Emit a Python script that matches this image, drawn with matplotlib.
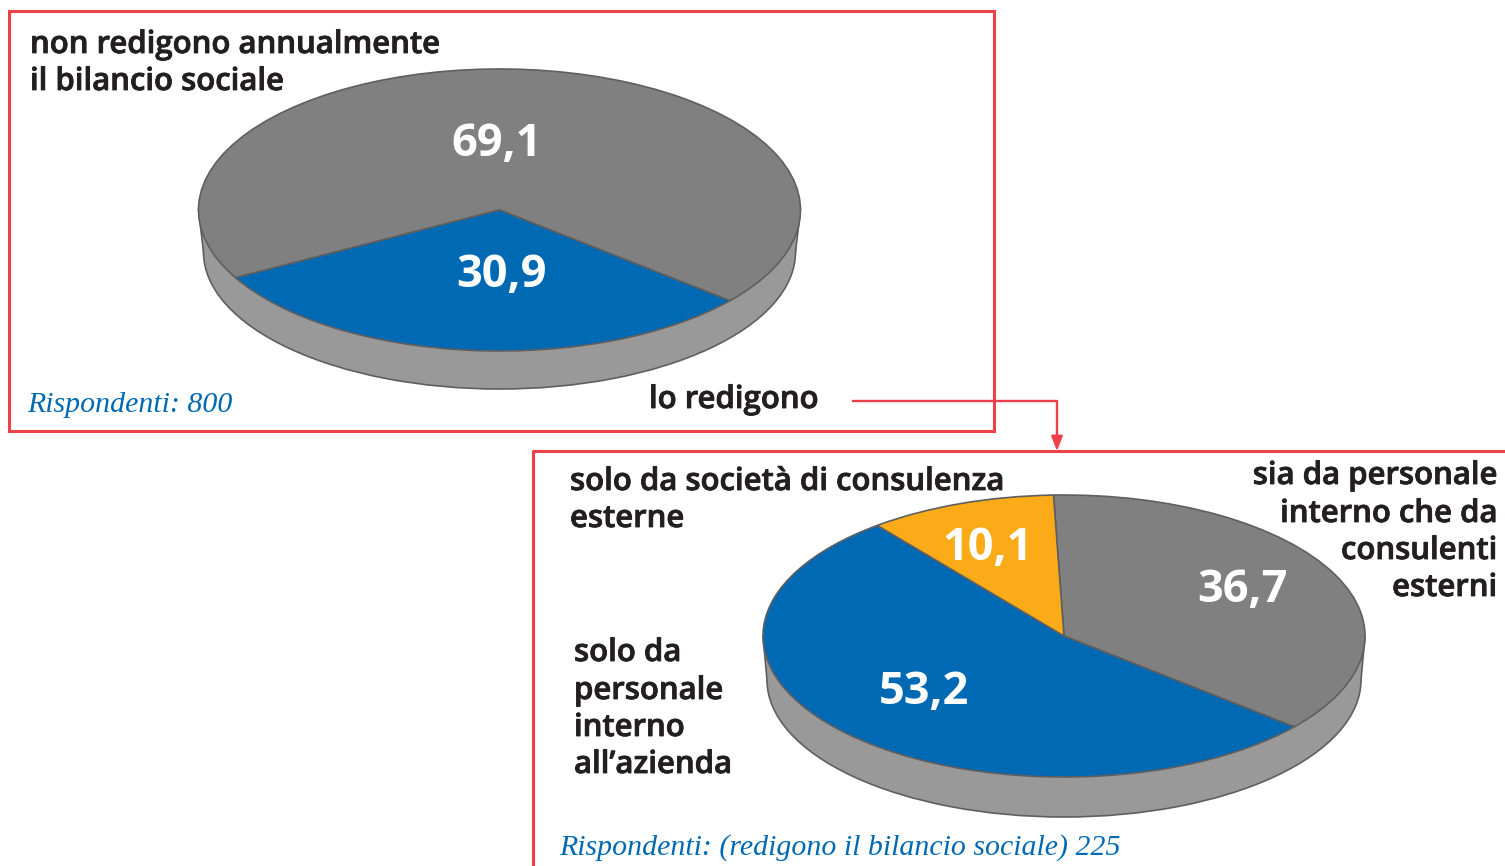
import matplotlib
matplotlib.use('Agg')
import matplotlib.pyplot as plt
import matplotlib.patheffects as pe
from matplotlib.patches import Rectangle, Polygon

plt.rcParams['font.family'] = ['Open Sans', 'DejaVu Sans']

W, H = 1505, 866

# data
values_top = [69.1, 30.9]
labels_top = ['69,1', '30,9']
colors_top = ['#808080', '#0069b4']
values_bottom = [36.7, 53.2, 10.1]
labels_bottom = ['36,7', '53,2', '10,1']
colors_bottom = ['#808080', '#0069b4', '#fbab18']

RED = '#ee4048'
EDGE = '#5f5f5f'
SIDE = '#999999'
DARK = '#231f20'
ITALIC = '#0069b4'

fig = plt.figure(figsize=(W / 100, H / 100), dpi=100)
fig.patch.set_facecolor('white')


def pixel_axes(zorder):
    # full figure axes, coordinates are reference pixels
    ax = fig.add_axes([0, 0, 1, 1], zorder=zorder)
    ax.set_xlim(0, W)
    ax.set_ylim(H, 0)
    ax.axis('off')
    ax.patch.set_alpha(0)
    return ax


def ellipse_pie(cx, cy, rx, ry, values, colors, start, zorder):
    # pie in its own axes, no equal aspect so the circle gets squashed
    ax = fig.add_axes([(cx - rx) / W, 1 - (cy + ry) / H, 2 * rx / W, 2 * ry / H], zorder=zorder)
    ax.pie(values, colors=colors, startangle=start, counterclock=False, radius=1,
           wedgeprops={'edgecolor': EDGE, 'linewidth': 1.2})
    ax.set_aspect('auto')
    ax.set_xlim(-1, 1)
    ax.set_ylim(-1, 1)
    ax.patch.set_alpha(0)
    return ax


def cake(cx, cy, rx, ry, base_cy, base_rx, base_ry, values, colors, start):
    ellipse_pie(cx, base_cy, base_rx, base_ry, [1], [SIDE], 0, 1)
    side = pixel_axes(2)
    side.add_patch(Polygon([(cx - rx, cy), (cx + rx, cy), (cx + base_rx, base_cy), (cx - base_rx, base_cy)],
                           facecolor=SIDE, edgecolor='none'))
    for s in (-1, 1):
        side.plot([cx + s * rx, cx + s * base_rx], [cy, base_cy], color=EDGE, lw=1.2)
    ellipse_pie(cx, cy, rx, ry, values, colors, start, 3)


cake(499.5, 210, 301, 141, 252, 296, 137, values_top, colors_top, 208.7)
cake(1064, 636, 301, 141, 680, 297, 137, values_bottom, colors_bottom, 92)

# frames
frame = pixel_axes(0)
frame.add_patch(Rectangle((8.5, 10.5), 985.5, 420.5, fill=False, edgecolor=RED, lw=2.2))
frame.plot([W + 5, 532.5, 532.5], [450.5, 450.5, H + 5], color=RED, lw=2.2)

ax = pixel_axes(4)

# connector between the two pies
ax.plot([853, 1057, 1057], [400.5, 400.5, 435], color=RED, lw=1.7)
ax.annotate('', xy=(1057, 451), xytext=(1057, 428),
            arrowprops=dict(arrowstyle='-|>,head_length=0.9,head_width=0.35', color=RED, lw=1.5,
                            shrinkA=0, shrinkB=0))

# semibold plus a thin stroke, gets closer to the heavier look of the original
heavy = [pe.withStroke(linewidth=0.6, foreground=DARK)]


def label(x, y, s, ha='left'):
    ax.text(x, y, s, ha=ha, fontsize=22.4, fontweight='semibold', color=DARK, path_effects=heavy)


label(30, 53, 'non redigono annualmente')
label(30, 90, 'il bilancio sociale')
label(649, 408, 'lo redigono')
label(570, 490, 'solo da società di consulenza')
label(570, 527, 'esterne')

for y, s in zip([484, 522, 559, 596], ['sia da personale', 'interno che da', 'consulenti', 'esterni']):
    label(1497, y, s, ha='right')
for y, s in zip([661, 699, 736, 773], ['solo da', 'personale', 'interno', 'all’azienda']):
    label(574, y, s)

# values on the slices
for (x, y), s in zip([(497, 156), (502, 287)], labels_top):
    ax.text(x, y, s, ha='center', fontsize=32.5, fontweight='bold', color='white')
for (x, y), s in zip([(1242, 602), (924, 704), (988, 560)], labels_bottom):
    ax.text(x, y, s, ha='center', fontsize=32.5, fontweight='bold', color='white')

ax.text(27, 412, 'Rispondenti: 800', fontsize=21.5, style='italic', family='Liberation Serif', color=ITALIC)
ax.text(559, 855, 'Rispondenti: (redigono il bilancio sociale) 225', fontsize=21.5, style='italic',
        family='Liberation Serif', color=ITALIC)

fig.savefig('out.png', dpi=100)
